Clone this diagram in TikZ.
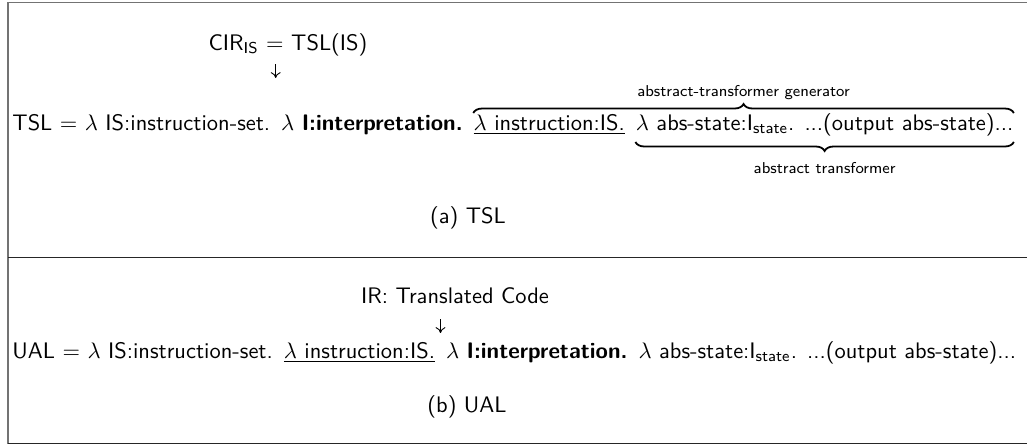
\documentclass[tikz,border=0pt]{standalone}
\usepackage{amsmath,amssymb}
\usepackage{tikz}
\usetikzlibrary{arrows.meta,positioning,calc,decorations.pathreplacing}

\begin{document}
\begin{tikzpicture}[
    x=0.445pt, y=-0.445pt,
    every node/.style={font=\sffamily, inner sep=0pt},
    lead/.style={anchor=base west},
    note/.style={font=\sffamily\scriptsize, anchor=base},
    subcap/.style={anchor=base},
    border/.style={line width=0.7pt, draw=black!55},
    divider/.style={line width=0.7pt, draw=black!85},
    brc/.style={decorate, line width=0.8pt, decoration={brace, amplitude=4pt, #1}},
    brc/.default={},
    pointer/.style={-{To[length=2.6pt,width=4.4pt]}, line width=0.4pt},
    node distance=4.5pt
  ]
  \useasboundingbox (0,0) rectangle (1027,445);
  \draw[border] (1027,2.5) -- (8,2.5) -- (8,443.5);
  \draw[divider] (8,257.5) -- (1027,257.5);
  \draw[divider] (8,443.5) -- (1027,443.5);

  % (a) TSL
  \node[lead] (tslHead) at (12,130) {TSL $=$ $\lambda$ IS:instruction-set.};
  \node[base right=of tslHead] (tslInterp) {$\lambda$ \textbf{I:interpretation.}};
  \node[base right=of tslInterp] (tslInstr) {\underline{$\lambda$ instruction:IS.}};
  \node[base right=of tslInstr] (tslAbs) {$\lambda$ abs-state:I\textsubscript{state}.\hspace{4.5pt}...(output abs-state)...};

  \coordinate (genL) at (tslInstr.west |- 0,113);
  \coordinate (genR) at (tslAbs.east |- 0,113);
  \coordinate (genTip) at ($(genL)!0.5!(genR)$);
  \draw[brc] (genL) -- (genR);
  \node[note] (genText) at (genTip |- 0,96) {abstract-transformer generator};

  \coordinate (trL) at (tslAbs.west |- 0,142);
  \coordinate (trR) at (tslAbs.east |- 0,142);
  \coordinate (trTip) at ($(trL)!0.5!(trR)$);
  \draw[brc={mirror}] (trL) -- (trR);
  \node[note] (trText) at (trTip |- 0,173) {abstract transformer};

  \coordinate (cirGap) at ($(tslHead.base east)!0.5!(tslInterp.base west)$);
  \coordinate (cirTail) at (cirGap |- 0,64);
  \coordinate (cirTip) at (cirGap |- 0,78);
  \node[anchor=base] (cirLabel) at (288,50) {CIR\textsubscript{IS} $=$ TSL(IS)};
  \draw[pointer] (cirTail) -- (cirTip);

  \node[subcap] (capA) at (468,223) {(a) TSL};

  % (b) UAL
  \node[lead] (ualHead) at (12,358) {UAL $=$ $\lambda$ IS:instruction-set.};
  \node[base right=of ualHead] (ualInstr) {\underline{$\lambda$ instruction:IS.}};
  \node[base right=of ualInstr] (ualInterp) {$\lambda$ \textbf{I:interpretation.}};
  \node[base right=of ualInterp] (ualAbs) {$\lambda$ abs-state:I\textsubscript{state}.\hspace{4.5pt}...(output abs-state)...};

  \coordinate (irGap) at ($(ualInstr.base east)!0.5!(ualInterp.base west)$);
  \coordinate (irTail) at (irGap |- 0,319);
  \coordinate (irTip) at (irGap |- 0,333);
  \node[anchor=base] (irLabel) at (455,303) {IR: Translated Code};
  \draw[pointer] (irTail) -- (irTip);

  \node[subcap] (capB) at (467,412) {(b) UAL};
\end{tikzpicture}
\end{document}
